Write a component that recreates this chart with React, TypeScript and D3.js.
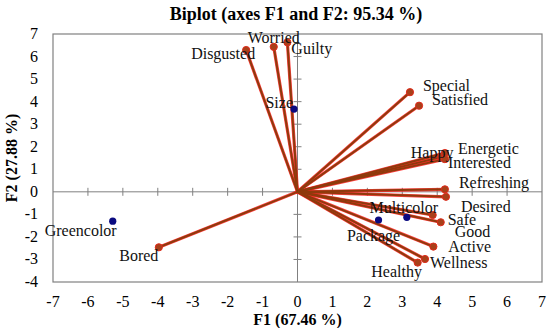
import React from "react";
import * as d3 from "d3";

const variableNames = ["Disgusted","Worried","Guilty","Special","Satisfied","Happy","Energetic","Interested","Refreshing","Desired","Safe","Good","Active","Wellness","Healthy","Bored"];
const variableF1 = [-1.47,-0.68,-0.29,3.22,3.48,4.11,4.22,4.22,4.22,4.25,3.87,4.10,3.89,3.65,3.44,-3.97];
const variableF2 = [6.29,6.43,6.63,4.42,3.82,1.54,1.72,1.45,0.11,-0.22,-1.03,-1.35,-2.43,-2.98,-3.14,-2.46];

const obsNames = ["Size","Package","Multicolor","Greencolor"];
const obsF1 = [-0.10,2.32,3.13,-5.29];
const obsF2 = [3.67,-1.25,-1.13,-1.30];

const xTicks = [-7,-6,-5,-4,-3,-2,-1,0,1,2,3,4,5,6,7];
const yTicks = [-4,-3,-2,-1,0,1,2,3,4,5,6,7];

const title = "Biplot (axes F1 and F2: 95.34 %)";
const xTitle = "F1 (67.46 %)";
const yTitle = "F2 (27.88 %)";

// label layout (pixel offsets from point, anchor)
const labelLayout: Record<string, [number, number, string]> = {
  Disgusted: [9, 3, "end"],
  Worried: [0, -9, "middle"],
  Guilty: [4, 6, "start"],
  Special: [13, -7, "start"],
  Satisfied: [13, -6, "start"],
  Happy: [-9, -5, "middle"],
  Energetic: [13, -5, "start"],
  Interested: [3, 3, "start"],
  Refreshing: [14, -7, "start"],
  Desired: [15, 10, "start"],
  Safe: [15, 4, "start"],
  Good: [14, 9, "start"],
  Active: [15, 0, "start"],
  Wellness: [5, 3, "start"],
  Healthy: [-21, 9, "middle"],
  Bored: [-20, 8, "middle"],
  Size: [-1, -7, "end"],
  Package: [-5, 15, "middle"],
  Multicolor: [-3, -10, "middle"],
  Greencolor: [-32, 9, "middle"],
};

const FONT = "'Liberation Serif', 'Times New Roman', serif";

export default function App() {
  const W = 550, H = 328;
  const x = d3.scaleLinear().domain([-7, 7]).range([53, 542]);
  const y = d3.scaleLinear().domain([-4, 7]).range([282, 34]);
  const x0 = x(0), y0 = y(0);
  const gray = "#808080";
  const fs = 16;

  const vars = variableNames.map((n, i) => ({ n, a: variableF1[i], b: variableF2[i] }));
  const obs = obsNames.map((n, i) => ({ n, a: obsF1[i], b: obsF2[i] }));

  return (
    <svg width={W} height={H} style={{ position: "absolute", left: 0, top: 0, background: "#fff" }} fontFamily={FONT}>
      <rect x={0} y={0} width={W} height={H} fill="#fff" />
      <text x={296} y={20} textAnchor="middle" fontWeight="bold" fontSize={18}>{title}</text>
      <rect x={x(-7)} y={y(7)} width={x(7) - x(-7)} height={y(-4) - y(7)} fill="none" stroke={gray} strokeWidth={1.2} />
      <line x1={x(-7)} x2={x(7)} y1={y0} y2={y0} stroke={gray} strokeWidth={1} />
      <line x1={x0} x2={x0} y1={y(7)} y2={y(-4)} stroke={gray} strokeWidth={1} />
      {xTicks.slice(1, -1).map(t => (
        <line key={"xt" + t} x1={x(t)} x2={x(t)} y1={y0 - 4} y2={y0 + 4} stroke={gray} strokeWidth={1} />
      ))}
      {yTicks.slice(1, -1).map(t => (
        <line key={"yt" + t} x1={x0 - 4} x2={x0 + 4} y1={y(t)} y2={y(t)} stroke={gray} strokeWidth={1} />
      ))}
      {xTicks.map(t => (
        <text key={"xl" + t} x={x(t)} y={307} textAnchor="middle" fontSize={fs}>{t}</text>
      ))}
      {yTicks.map(t => (
        <text key={"yl" + t} x={38} y={y(t) + 5} textAnchor="end" fontSize={fs}>{t}</text>
      ))}
      <text x={x0} y={325} textAnchor="middle" fontWeight="bold" fontSize={16}>{xTitle}</text>
      <text transform={`translate(17,${(y(7) + y(-4)) / 2}) rotate(-90)`} textAnchor="middle" fontWeight="bold" fontSize={16}>{yTitle}</text>

      {vars.map(v => (
        <line key={"r" + v.n} x1={x0} y1={y0} x2={x(v.a)} y2={y(v.b)} stroke="#ff2020" strokeWidth={3.2} strokeLinecap="round" opacity={0.85} />
      ))}
      {vars.map(v => (
        <line key={"b" + v.n} x1={x0} y1={y0} x2={x(v.a)} y2={y(v.b)} stroke="#8f3a0c" strokeWidth={2} />
      ))}
      {vars.map(v => (
        <circle key={"c" + v.n} cx={x(v.a)} cy={y(v.b)} r={3.6} fill="#a8401a" stroke="#e02a1a" strokeWidth={1} />
      ))}
      {obs.map(o => (
        <circle key={"o" + o.n} cx={x(o.a)} cy={y(o.b)} r={3.6} fill="#0a0a80" />
      ))}
      {[...vars, ...obs].map(p => {
        const [dx, dy, anchor] = labelLayout[p.n];
        return (
          <text key={"t" + p.n} x={x(p.a) + dx} y={y(p.b) + dy} dy="0.35em" textAnchor={anchor as any} fontSize={fs} fill="#111">{p.n}</text>
        );
      })}
    </svg>
  );
}
